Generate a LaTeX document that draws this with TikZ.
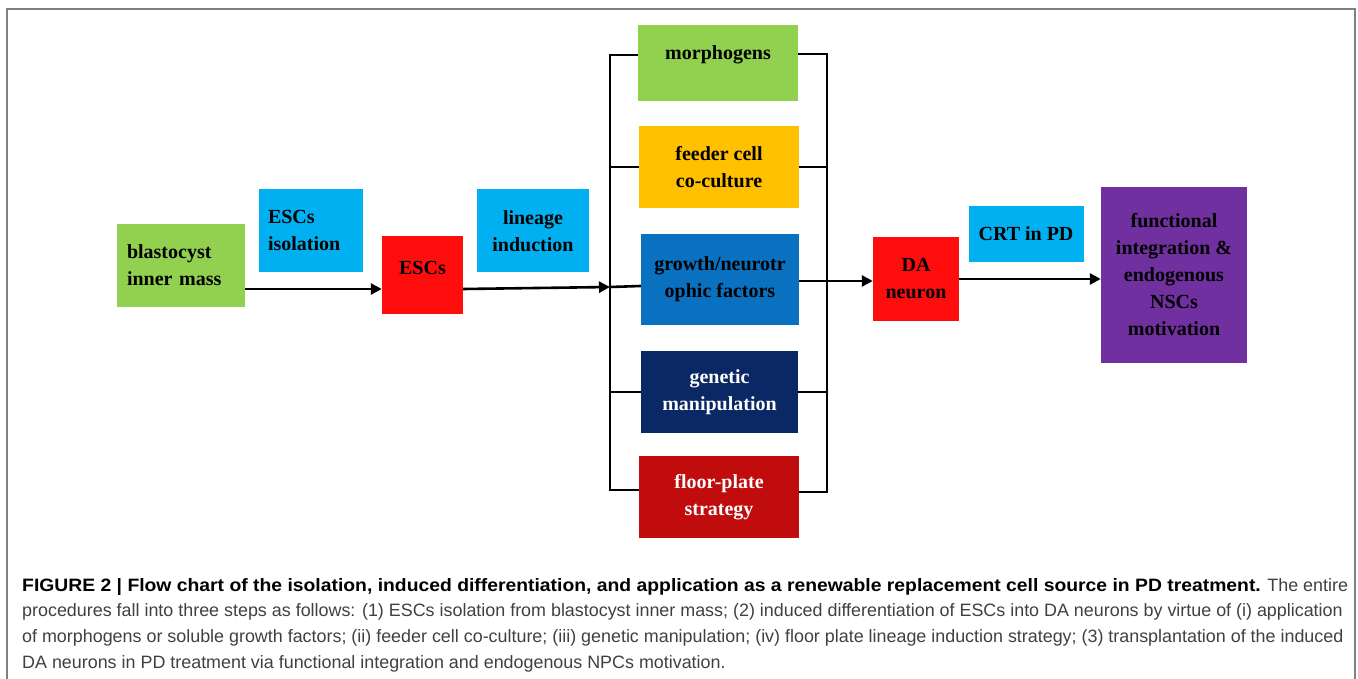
\documentclass[tikz,border=0pt]{standalone}
\usepackage{fontspec}
\setmainfont{Liberation Serif}
\newfontfamily\capfont{Liberation Sans}
\usetikzlibrary{arrows.meta}

\definecolor{leafgreen}{HTML}{92D050}
\definecolor{skyblue}{HTML}{00B0F0}
\definecolor{cellred}{HTML}{FF0D0D}
\definecolor{amber}{HTML}{FFC000}
\definecolor{midblue}{HTML}{0A70C0}
\definecolor{navy}{HTML}{0A2864}
\definecolor{darkred}{HTML}{C00C0C}
\definecolor{violet}{HTML}{7030A0}
\definecolor{framegray}{HTML}{808080}
\definecolor{capgray}{HTML}{404040}

\newcommand\boxfont{\bfseries\fontsize{20}{27}\selectfont}

\tikzset{
  box/.style 2 args={minimum width=#1pt, minimum height=#2pt, inner sep=0pt, align=center, font=\boxfont},
  wire/.style={line width=2.6pt},
  arr/.style={line width=2.6pt, -{Triangle[length=11pt,width=11pt]}}
}

\begin{document}
\begin{tikzpicture}[x=1pt,y=-1pt]
  \useasboundingbox (0,0) rectangle (1358,679);
  \draw[framegray, line width=1.2pt] (7,700) |- (1355,9) -- (1355,700);

  \node[box={128}{83}, fill=leafgreen, text width=108pt, align=left] (blast) at (181,265.5) {blastocyst\\inner mass};
  \node[box={104}{83}, fill=skyblue, text width=86pt, align=left] (escsiso) at (311,230.5) {ESCs\\isolation};
  \node[box={81}{78}, fill=cellred, text height=14pt, text depth=14pt] (escs) at (422.5,275) {ESCs};
  \node[box={112}{83}, fill=skyblue] (lineage) at (533,231) {lineage\\induction};

  \node[box={160}{76}, fill=leafgreen, text height=14pt, text depth=20pt] (morph) at (718,63) {morphogens};
  \node[box={160}{82}, fill=amber] (feeder) at (719,167) {feeder cell\\co-culture};
  \node[box={158}{91}, fill=midblue] (growth) at (720,279.5) {growth/neurotr\\ophic factors};
  \node[box={157}{82}, fill=navy, text=white] (genetic) at (719.5,392) {genetic\\manipulation};
  \node[box={160}{82}, fill=darkred, text=white] (floor) at (719,497) {floor-plate\\strategy};

  \node[box={86}{84}, fill=cellred] (da) at (916,279) {DA\\neuron};
  \node[box={115}{56}, fill=skyblue] (crt) at (1026,234) {CRT in PD};
  \node[box={146}{176}, fill=violet] (func) at (1174,275) {functional\\integration \&\\endogenous\\NSCs\\motivation};

  \coordinate (split) at (610,287);
  \coordinate (join) at (827,281);

  \draw[arr] ([yshift=-23.5pt]blast.east) -- ([yshift=-14pt]escs.west);
  \draw[arr] ([yshift=-14pt]escs.east) -- (split);

  \draw[wire] ([yshift=8pt]morph.west) -| (split) |- ([yshift=7pt]floor.west);
  \draw[wire] (feeder.west) -- (feeder.west -| split);
  \draw[wire] ([yshift=-6.5pt]growth.west) -- (split);
  \draw[wire] (genetic.west) -- (genetic.west -| split);

  \draw[wire] ([yshift=9pt]morph.east) -| (join) |- ([yshift=5pt]floor.east);
  \draw[wire] (feeder.east) -- (feeder.east -| join);
  \draw[wire] (genetic.east) -- (genetic.east -| join);
  \draw[arr] ([yshift=-1.5pt]growth.east) -- ([yshift=-2pt]da.west);

  \draw[arr] (da.east) -- (func.west |- da.east);

  \node[anchor=north west, inner sep=0pt, align=left, text=capgray,
    font=\capfont\fontsize{17.9}{25.7}\selectfont] (caption) at (22,578)
    {{\bfseries\addfontfeatures{FakeStretch=1.08}\color{black}FIGURE 2 | Flow chart of the isolation, induced differentiation, and application as a renewable replacement cell source in PD treatment.} The entire\\
    procedures fall into three steps as follows: (1) ESCs isolation from blastocyst inner mass; (2) induced differentiation of ESCs into DA neurons by virtue of (i) application\\
    of morphogens or soluble growth factors; (ii) feeder cell co-culture; (iii) genetic manipulation; (iv) floor plate lineage induction strategy; (3) transplantation of the induced\\
    DA neurons in PD treatment via functional integration and endogenous NPCs motivation.};
\end{tikzpicture}
\end{document}
